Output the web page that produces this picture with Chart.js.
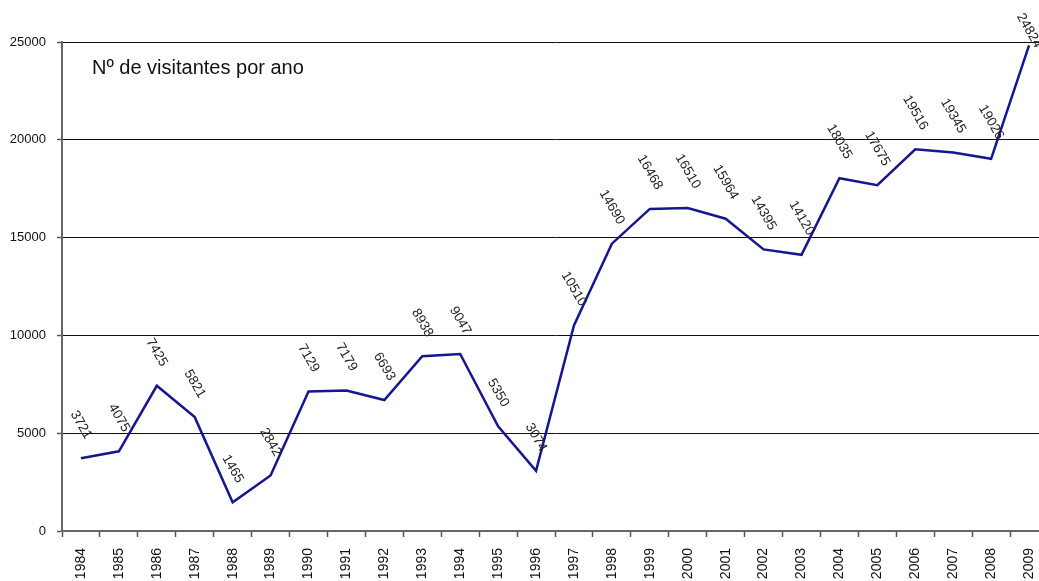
<!DOCTYPE html>
<html>
<head>
<meta charset="utf-8">
<script src="https://cdn.jsdelivr.net/npm/chart.js@4/dist/chart.umd.min.js"></script>
<style>
  html, body { margin: 0; padding: 0; background: #fff; overflow: hidden; }
  #c { display: block; }
</style>
</head>
<body>
<canvas id="c" width="1050" height="581"></canvas>
<script>
// Visitors per year
const years = ['1984','1985','1986','1987','1988','1989','1990','1991','1992','1993','1994','1995','1996',
               '1997','1998','1999','2000','2001','2002','2003','2004','2005','2006','2007','2008','2009'];
const visitors = [3721, 4075, 7425, 5821, 1465, 2842, 7129, 7179, 6693, 8938, 9047, 5350, 3074,
                  10510, 14690, 16468, 16510, 15964, 14395, 14120, 18035, 17675, 19516, 19345, 19026, 24824];
const yTicks = [0, 5000, 10000, 15000, 20000, 25000];
const chartTitle = 'Nº de visitantes por ano';

const FONT = '"Liberation Sans", Arial, sans-serif';
Chart.defaults.font.family = FONT;

// Rotated value labels above each point
const valueLabels = {
  id: 'valueLabels',
  afterDatasetsDraw(chart) {
    const ctx = chart.ctx;
    const meta = chart.getDatasetMeta(0);
    const ds = chart.data.datasets[0].data;
    const size = 13.5;
    const theta = 60 * Math.PI / 180;
    const gap = 18;
    ctx.save();
    ctx.font = size + 'px ' + FONT;
    ctx.fillStyle = '#222';
    ctx.textAlign = 'center';
    ctx.textBaseline = 'middle';
    meta.data.forEach((pt, i) => {
      const txt = String(ds[i]);
      const w = ctx.measureText(txt).width;
      const half = (w * Math.sin(theta) + size * 0.7 * Math.cos(theta)) / 2;
      let cy = pt.y - gap - half;
      if (cy - half < 12) cy = 12 + half;
      ctx.save();
      ctx.translate(pt.x, cy);
      ctx.rotate(theta);
      ctx.fillText(txt, 0, 0);
      ctx.restore();
    });
    ctx.restore();
  }
};

// Caption placed inside the plot area
const innerTitle = {
  id: 'innerTitle',
  afterDraw(chart) {
    const ctx = chart.ctx;
    const a = chart.chartArea;
    ctx.save();
    ctx.font = '20px ' + FONT;
    ctx.fillStyle = '#111';
    ctx.textAlign = 'left';
    ctx.textBaseline = 'alphabetic';
    ctx.fillText(chartTitle, a.left + 30, a.top + 32);
    ctx.restore();
  }
};

new Chart(document.getElementById('c'), {
  type: 'line',
  data: {
    labels: years,
    datasets: [{
      data: visitors,
      borderColor: '#161690',
      borderWidth: 2.5,
      pointRadius: 0,
      tension: 0,
      fill: false,
      clip: false
    }]
  },
  options: {
    responsive: false,
    animation: false,
    devicePixelRatio: 1,
    layout: { padding: { top: 42, right: 2, left: 0, bottom: 0 } },
    plugins: { legend: { display: false }, tooltip: { enabled: false }, title: { display: false } },
    scales: {
      x: {
        offset: true,
        grid: {
          offset: true,
          drawOnChartArea: false,
          drawTicks: true,
          tickLength: 6,
          tickColor: '#555',
          tickWidth: 1.5
        },
        border: { display: true, color: '#666', width: 2 },
        ticks: {
          autoSkip: false,
          minRotation: 90,
          maxRotation: 90,
          padding: 11,
          color: '#111',
          font: { size: 14 }
        },
        afterFit(scale) {
          scale.height = 50;
          scale.paddingLeft = 0;
          scale.paddingRight = 0;
        }
      },
      y: {
        min: 0,
        max: 25000,
        afterBuildTicks(scale) { scale.ticks = yTicks.map(v => ({ value: v })); },
        grid: {
          color: (c) => c.tick && c.tick.value === 0 ? 'rgba(0,0,0,0)' : '#111',
          lineWidth: 1,
          drawTicks: true,
          tickLength: 5,
          tickColor: '#555',
          tickWidth: 1.5
        },
        border: { display: true, color: '#666', width: 2 },
        ticks: {
          padding: 11,
          color: '#111',
          font: { size: 13 },
          callback: (v) => String(v)
        },
        afterFit(scale) {
          scale.width = 62;
          scale.paddingTop = 0;
          scale.paddingBottom = 0;
        }
      }
    }
  },
  plugins: [valueLabels, innerTitle]
});
</script>
</body>
</html>
